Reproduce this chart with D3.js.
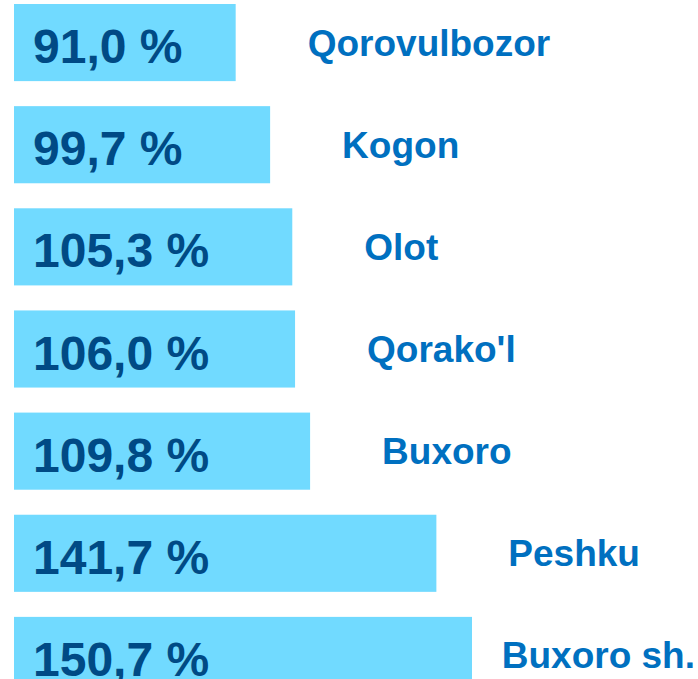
<!DOCTYPE html>
<html lang="uz">
<head>
    <meta charset="UTF-8">
    <title>Tumanlar</title>
    <script src="https://d3js.org/d3.v7.min.js"></script>
    <style>
        body { margin: 0; background: #fff; }
        svg { display: block; font-family: "Liberation Sans", Arial, sans-serif; font-weight: bold; }
    </style>
</head>
<body>
    <svg width="698" height="679" id="mainsvg"></svg>

    <script>
        // data
        const districts = ["Qorovulbozor", "Kogon", "Olot", "Qorako'l", "Buxoro", "Peshku", "Buxoro sh."]
        const values = [91.0, 99.7, 105.3, 106.0, 109.8, 141.7, 150.7]

        const svg = d3.select("#mainsvg")
        const width = +svg.attr("width"), height = +svg.attr("height")
        const x0 = 14

        const data = districts.map((name, i) => ({ name: name, value: values[i] }))

        const xScale = d3.scaleLinear()
            .domain([35, d3.max(values)])
            .range([x0, 472])

        const yScale = d3.scaleBand()
            .domain(districts)
            .range([4, 694])
            .paddingInner(0.245)
            .paddingOuter(0)

        const fmt = v => v.toFixed(1).replace(".", ",") + " %"

        const rows = svg.selectAll(".row").data(data).enter().append("g").attr("class", "row")

        rows.append("rect")
            .attr("x", x0)
            .attr("y", d => yScale(d.name))
            .attr("width", d => xScale(d.value) - x0)
            .attr("height", yScale.bandwidth())
            .attr("fill", "#71DAFF")

        rows.append("text")
            .attr("x", x0 + 19)
            .attr("y", d => yScale(d.name) + yScale.bandwidth() / 2 + 20.5)
            .attr("font-size", 48)
            .attr("fill", "#004A85")
            .text(d => fmt(d.value))

        // names sit right of the bar, kept inside the picture
        rows.append("text")
            .attr("class", "name")
            .attr("y", d => yScale(d.name) + yScale.bandwidth() / 2 + 13)
            .attr("font-size", 37)
            .attr("fill", "#0070C0")
            .text(d => d.name)
            .attr("x", function (d) {
                const w = this.getComputedTextLength()
                return Math.min(xScale(d.value) + 72, width - w - 3)
            })
    </script>
</body>
</html>
